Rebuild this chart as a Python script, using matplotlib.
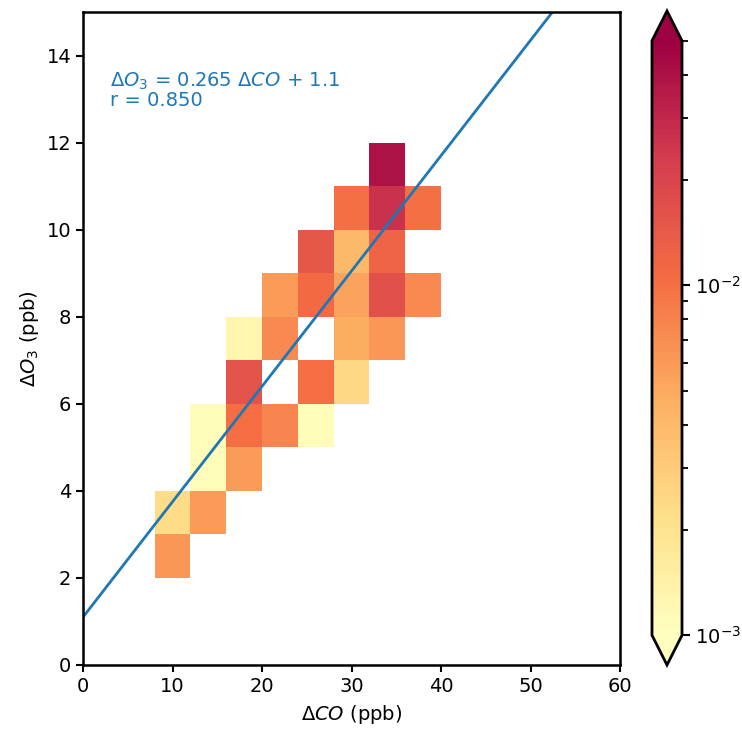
import numpy as np
import matplotlib
matplotlib.use("Agg")
import matplotlib.pyplot as plt
from matplotlib.colors import LogNorm, LinearSegmentedColormap

# bin edges of the 2D histogram
x_edges = np.arange(0, 64, 4)      # dCO bins (ppb)
y_edges = np.arange(0, 16, 1)      # dO3 bins (ppb)

# occupied cells: left edge of x bin, bottom edge of y bin, density
cell_x = [8, 8, 12, 12, 12, 16, 16, 16, 16, 20, 20, 20, 24, 24, 24, 24,
          28, 28, 28, 28, 28, 32, 32, 32, 32, 32, 36, 36]
cell_y = [2, 3, 3, 4, 5, 4, 5, 6, 7, 5, 7, 8, 5, 6, 8, 9,
          6, 7, 8, 9, 10, 7, 8, 9, 10, 11, 8, 10]
cell_v = [0.0063, 0.0023, 0.0060, 0.0011, 0.0011, 0.0060, 0.0105, 0.016, 0.0013,
          0.0078, 0.0075, 0.0060, 0.0011, 0.0105, 0.011, 0.015,
          0.0025, 0.0048, 0.0055, 0.0040, 0.010, 0.0063, 0.017, 0.012, 0.027, 0.040,
          0.0075, 0.010]

# linear fit shown on the plot
slope = 0.265
intercept = 1.1
r_value = 0.850

grid = np.full((len(y_edges) - 1, len(x_edges) - 1), np.nan)
for cx, cy, v in zip(cell_x, cell_y, cell_v):
    i = np.searchsorted(y_edges, cy)
    j = np.searchsorted(x_edges, cx)
    grid[i, j] = v
grid = np.ma.masked_invalid(grid)

base = plt.get_cmap("Spectral_r")
cmap = LinearSegmentedColormap.from_list(
    "half_spectral", base(np.linspace(0.5, 1.0, 256)))
cmap.set_bad("white")

plt.rcParams["font.size"] = 14
plt.rcParams["axes.linewidth"] = 1.8
plt.rcParams["xtick.major.width"] = 1.5
plt.rcParams["ytick.major.width"] = 1.5
plt.rcParams["xtick.major.size"] = 5
plt.rcParams["ytick.major.size"] = 5

fig = plt.figure(figsize=(7.42, 7.29), dpi=100)
ax = fig.add_axes([83 / 742, 64 / 729, 537 / 742, 653 / 729])
cax = fig.add_axes([652 / 742, 64 / 729, 30 / 742, 654 / 729])

mesh = ax.pcolormesh(x_edges, y_edges, grid, cmap=cmap,
                     norm=LogNorm(vmin=1e-3, vmax=5e-2))

xs = np.linspace(0, 60, 200)
ax.plot(xs, slope * xs + intercept, color="#1f77b4", lw=2)

ax.text(0.05, 0.91,
        r"$\Delta O_3$ = %.3f $\Delta CO$ + %.1f" % (slope, intercept) + "\n" + "r = %.3f" % r_value,
        transform=ax.transAxes, color="#1f77b4", va="top", ha="left",
        linespacing=0.95)

ax.set_xlim(0, 60)
ax.set_ylim(0, 15)
ax.set_xticks(np.arange(0, 61, 10))
ax.set_yticks(np.arange(0, 15, 2))
ax.set_xlabel(r"$\Delta CO$ (ppb)", labelpad=5)
ax.set_ylabel(r"$\Delta O_3$ (ppb)")

cb = fig.colorbar(mesh, cax=cax, extend="both")
cb.outline.set_linewidth(2)
cax.tick_params(which="major", length=6, width=1.5)
cax.tick_params(which="minor", length=4, width=1.3)

fig.savefig("out.png", dpi=100)
